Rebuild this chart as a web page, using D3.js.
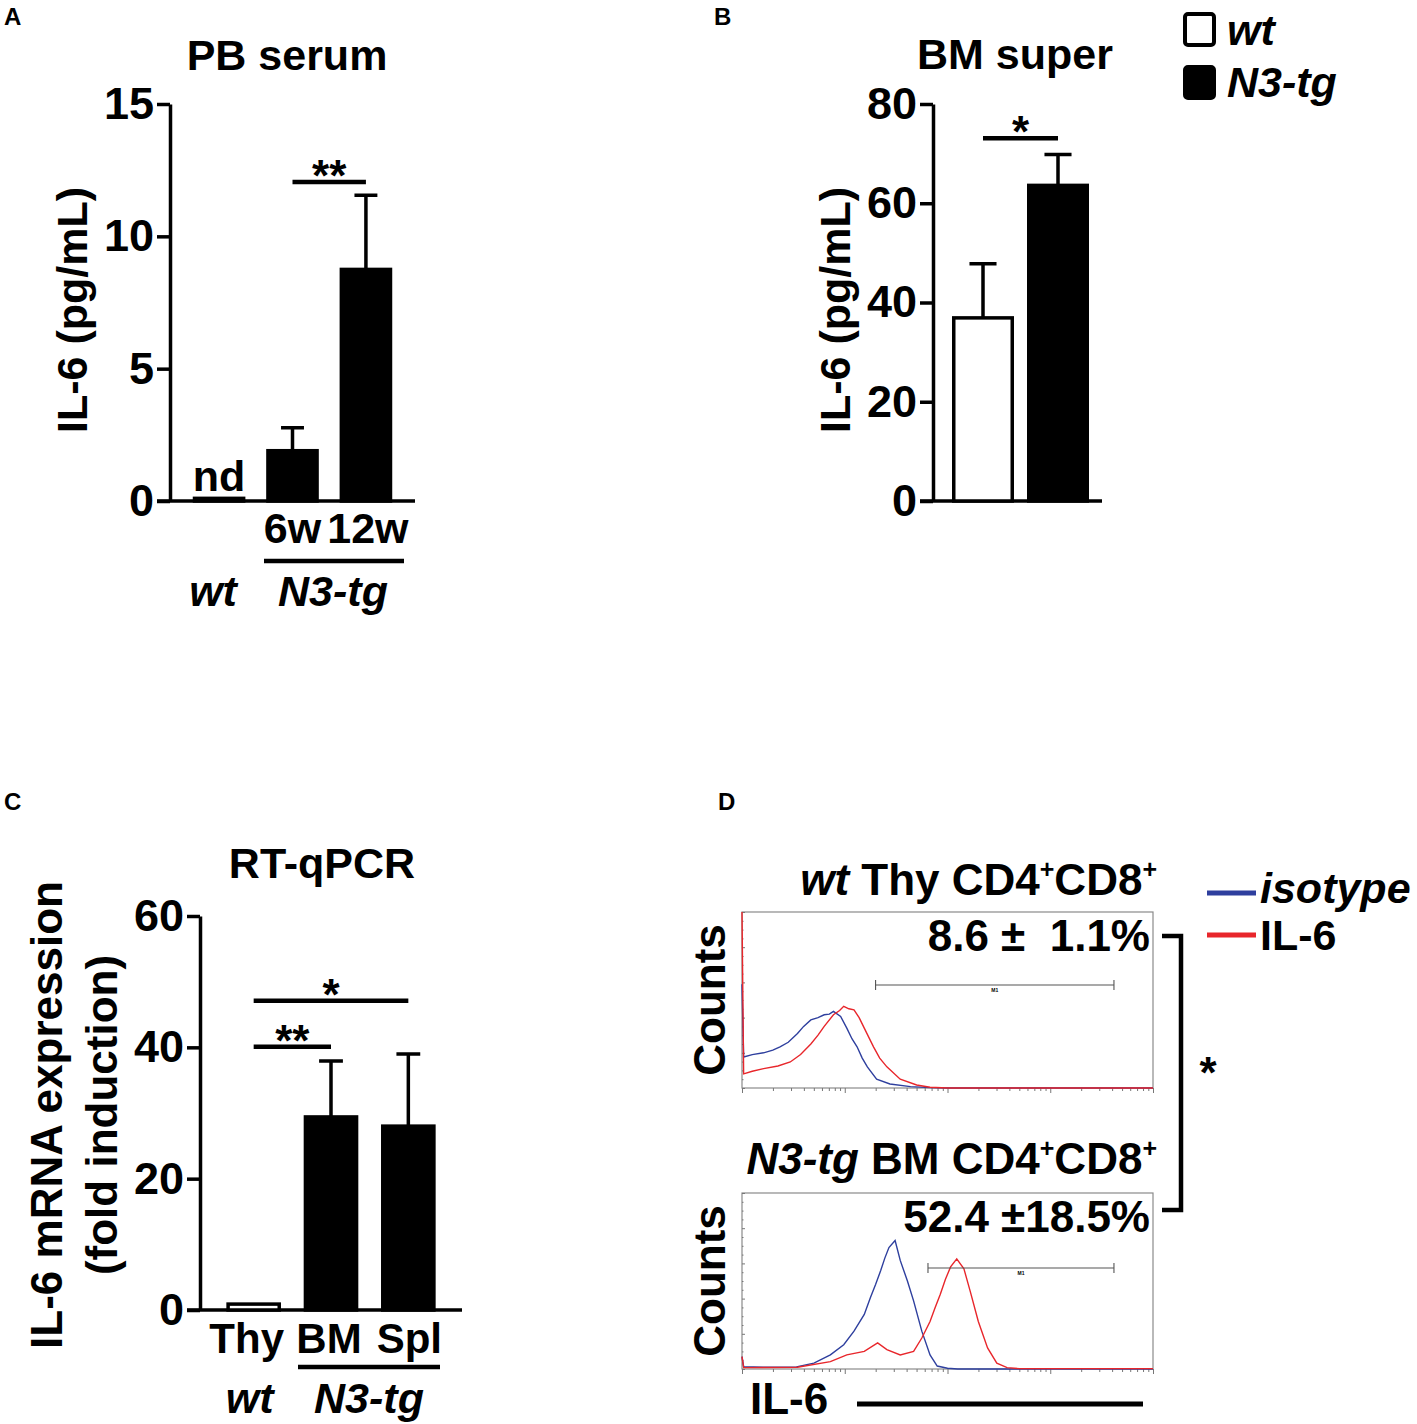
<!DOCTYPE html>
<html>
<head>
<meta charset="utf-8">
<script src="https://cdn.jsdelivr.net/npm/d3@7"></script>
<style>
body { margin: 0; background: #fff; }
text { font-family: "Liberation Sans", Arial, sans-serif; font-weight: bold; fill: #000; }
</style>
</head>
<body>
<div id="canvas"></div>
<script>
var width = 1417;
var height = 1424;

// A: PB serum IL-6 (pg/mL), mean and upper SEM
var groupsA = ["wt", "6w", "12w"];
var meansA = [0.1, 1.9, 8.75];
var semA = [0, 0.87, 2.8];
var ticksA = [0, 5, 10, 15];

// B: BM supernatant IL-6 (pg/mL)
var groupsB = ["wt", "N3-tg"];
var meansB = [36.9, 63.6];
var semB = [10.9, 6.2];
var ticksB = [0, 20, 40, 60, 80];

// C: RT-qPCR fold induction
var groupsC = ["Thy", "BM", "Spl"];
var meansC = [0.9, 29.4, 28.0];
var semC = [0, 8.5, 11.0];
var ticksC = [0, 20, 40, 60];

// D: flow histograms, [log10 intensity, % of max count]
var wtIso = [[0, 59], [0.016, 17.6], [0.1, 19], [0.21, 20], [0.3, 21.5], [0.37, 23.4], [0.45, 26],
  [0.54, 31], [0.6, 35], [0.67, 38.7], [0.74, 40], [0.8, 41.6], [0.85, 42], [0.89, 43.5],
  [0.96, 40.6], [1.02, 34], [1.07, 28], [1.12, 23.4], [1.17, 17], [1.22, 12], [1.31, 5],
  [1.44, 2.3], [1.64, 0.8], [1.83, 0.2], [2.0, 0], [4.0, 0]];
var wtIL6 = [[0, 100], [0.016, 8], [0.1, 9.5], [0.21, 11], [0.35, 12.5], [0.47, 14.8], [0.57, 19],
  [0.67, 25], [0.74, 30], [0.8, 35], [0.89, 41.6], [0.95, 44], [0.99, 46.4], [1.04, 45],
  [1.09, 44.4], [1.14, 40], [1.19, 34], [1.28, 23.4], [1.34, 17], [1.41, 12], [1.54, 5],
  [1.7, 1.7], [1.83, 0.4], [2.0, 0], [4.0, 0]];
var tgIso = [[0, 7], [0.016, 1.3], [0.21, 1], [0.53, 1.2], [0.7, 3.3], [0.86, 8], [0.99, 13.8],
  [1.09, 21.5], [1.19, 31], [1.25, 40.6], [1.3, 48], [1.35, 56], [1.39, 63], [1.43, 69],
  [1.49, 73], [1.54, 61.7], [1.61, 50], [1.67, 38.7], [1.75, 21.5], [1.83, 8], [1.9, 1.7],
  [2.0, 0.4], [2.1, 0], [4.0, 0]];
var tgIL6 = [[0, 7], [0.016, 0.8], [0.54, 1], [0.86, 4.2], [1.02, 8], [1.19, 10], [1.32, 14.8],
  [1.41, 11], [1.54, 8], [1.67, 10], [1.75, 17.6], [1.83, 27], [1.88, 35], [1.93, 42.5],
  [1.98, 51], [2.03, 58], [2.09, 62.6], [2.16, 56.9], [2.22, 44.4], [2.3, 27], [2.39, 12],
  [2.48, 3.3], [2.58, 0.8], [2.7, 0.2], [4.0, 0.2]];
var gateWt = [1.30, 3.62, 58.5];
var gateTg = [1.81, 3.62, 57.4];

var blue = "#2e3f9e", red = "#e8262b";

var svg = d3.select("#canvas").append("svg")
  .attr("width", width)
  .attr("height", height);

function label(g, x, y, txt, size, anchor, italic) {
  return g.append("text")
    .attr("x", x).attr("y", y)
    .attr("font-size", size)
    .attr("text-anchor", anchor || "middle")
    .attr("font-style", italic ? "italic" : "normal")
    .text(txt);
}

function barPanel(o) {
  var g = svg.append("g");
  var y = d3.scaleLinear().domain([0, o.max]).range([o.y0, o.y1]);
  var x = d3.scaleBand().domain(o.groups).range(o.xr)
    .paddingInner(o.pin).paddingOuter(0.15);
  var bw = x.bandwidth();

  var ax = g.append("g")
    .attr("transform", "translate(" + o.ax + ",0)")
    .call(d3.axisLeft(y).tickValues(o.ticks).tickSize(13).tickSizeOuter(0).tickPadding(3));
  ax.select(".domain").attr("stroke-width", 3.5);
  ax.selectAll(".tick line").attr("stroke-width", 3.5);
  ax.selectAll(".tick text")
    .attr("font-size", 45)
    .attr("font-family", "Liberation Sans, Arial, sans-serif")
    .attr("font-weight", "bold");

  g.append("line")
    .attr("x1", o.ax - 13).attr("x2", o.xend)
    .attr("y1", y(0)).attr("y2", y(0))
    .attr("stroke", "#000").attr("stroke-width", 3.5);

  var bars = o.groups.map(function(d, i) {
    return {g: d, m: o.means[i], e: o.sem[i], fill: o.fills[i]};
  });

  // error bars, upward only
  g.selectAll(".err").data(bars.filter(function(d) { return d.e > 0; }))
    .enter().append("path")
    .attr("d", function(d) {
      var cx = x(d.g) + bw / 2, cw = bw * 0.22;
      return "M" + cx + "," + y(d.m) + "V" + y(d.m + d.e) +
        "M" + (cx - cw) + "," + y(d.m + d.e) + "H" + (cx + cw);
    })
    .attr("fill", "none").attr("stroke", "#000").attr("stroke-width", 3.5);

  g.selectAll(".bar").data(bars)
    .enter().append("rect")
    .attr("x", function(d) { return x(d.g) + 1.5; })
    .attr("width", bw - 3)
    .attr("y", function(d) { return y(d.m); })
    .attr("height", function(d) { return y(0) - y(d.m); })
    .attr("fill", function(d) { return d.fill; })
    .attr("stroke", "#000").attr("stroke-width", 3.5);

  // significance lines
  (o.sig || []).forEach(function(s) {
    var xa = x(s[0]) + bw / 2, xb = x(s[1]) + bw / 2, yy = y(s[2]);
    g.append("line").attr("x1", xa).attr("x2", xb).attr("y1", yy).attr("y2", yy)
      .attr("stroke", "#000").attr("stroke-width", 4.5);
    label(g, (xa + xb) / 2, yy + 9, s[3], 44);
  });

  // y label
  g.append("text")
    .attr("transform", "translate(" + o.ylx + "," + o.yly + ") rotate(-90)")
    .attr("text-anchor", "middle").attr("font-size", o.ylsize || 43)
    .text(o.ylabel);

  label(g, o.tx, o.ty, o.title, 43);
  return {x: x, y: y, g: g, bw: bw};
}

// Panel letters
label(svg, 4, 25, "A", 24, "start");
label(svg, 714, 25, "B", 24, "start");
label(svg, 4, 810, "C", 24, "start");
label(svg, 718, 810, "D", 24, "start");

// ---- A
var pA = barPanel({
  groups: groupsA, means: meansA, sem: semA, ticks: ticksA, max: 15,
  y0: 501, y1: 104, ax: 170, xr: [182, 403], pin: 0.29, xend: 415,
  fills: ["#000", "#000", "#000"],
  sig: [["6w", "12w", 12.05, "**"]],
  ylabel: "IL-6 (pg/mL)", ylx: 87, yly: 310,
  title: "PB serum", tx: 287, ty: 70
});
label(pA.g, pA.x("wt") + pA.bw / 2, 491, "nd", 43);
label(pA.g, pA.x("6w") + pA.bw / 2, 543, "6w", 43);
label(pA.g, pA.x("12w") + pA.bw / 2 + 2, 543, "12w", 43);
pA.g.append("line").attr("x1", 264).attr("x2", 404).attr("y1", 561).attr("y2", 561)
  .attr("stroke", "#000").attr("stroke-width", 4.5);
label(pA.g, pA.x("wt") + pA.bw / 2 - 6, 606, "wt", 43, "middle", true);
label(pA.g, 333, 606, "N3-tg", 43, "middle", true);

// ---- B
var pB = barPanel({
  groups: groupsB, means: meansB, sem: semB, ticks: ticksB, max: 80,
  y0: 501, y1: 104, ax: 933, xr: [941, 1100], pin: 0.18, xend: 1102,
  fills: ["#fff", "#000"],
  sig: [["wt", "N3-tg", 73.1, "*"]],
  ylabel: "IL-6 (pg/mL)", ylx: 850, yly: 310,
  title: "BM super", tx: 1015, ty: 69
});
// legend B
var legB = svg.append("g");
legB.selectAll("rect").data(groupsB).enter().append("rect")
  .attr("x", 1185).attr("y", function(d, i) { return 14 + i * 53; })
  .attr("width", 29).attr("height", 31).attr("rx", 3)
  .attr("fill", function(d, i) { return i ? "#000" : "#fff"; })
  .attr("stroke", "#000").attr("stroke-width", 4);
legB.selectAll("text").data(groupsB).enter().append("text")
  .attr("x", 1227).attr("y", function(d, i) { return 45 + i * 52; })
  .attr("font-size", 43).attr("font-style", "italic")
  .text(function(d) { return d; });

// ---- C
var pC = barPanel({
  groups: groupsC, means: meansC, sem: semC, ticks: ticksC, max: 60,
  y0: 1310, y1: 916, ax: 200, xr: [215, 447], pin: 0.3, xend: 462,
  fills: ["#fff", "#000", "#000"],
  sig: [["Thy", "BM", 40.1, "**"], ["Thy", "Spl", 47.1, "*"]],
  ylabel: "IL-6 mRNA expression", ylx: 62, yly: 1115, ylsize: 44,
  title: "RT-qPCR", tx: 322, ty: 878
});
pC.g.append("text")
  .attr("transform", "translate(117,1115) rotate(-90)")
  .attr("text-anchor", "middle").attr("font-size", 44)
  .text("(fold induction)");
var nudgeC = [-7, -2, 1];
groupsC.forEach(function(d, i) {
  label(pC.g, pC.x(d) + pC.bw / 2 + nudgeC[i], 1353, d, 42);
});
pC.g.append("line").attr("x1", 298).attr("x2", 440).attr("y1", 1367).attr("y2", 1367)
  .attr("stroke", "#000").attr("stroke-width", 4.5);
label(pC.g, pC.x("Thy") + pC.bw / 2 - 4, 1413, "wt", 43, "middle", true);
label(pC.g, 369, 1413, "N3-tg", 43, "middle", true);

// ---- D histograms
var hx = d3.scaleLinear().domain([0, 4]).range([742, 1153]);
var hxLog = d3.scaleLog().domain([1, 10000]).range([742, 1153]);

function histo(top, bottom, iso, il6, gate) {
  var g = svg.append("g");
  var hy = d3.scaleLinear().domain([0, 100]).range([bottom, top]);
  g.append("rect").attr("x", 742).attr("y", top)
    .attr("width", 411).attr("height", bottom - top)
    .attr("fill", "none").attr("stroke", "#8a8a8a").attr("stroke-width", 1.2);

  var minor = [];
  for (var d = 0; d < 4; d++) for (var k = 1; k < 10; k++) minor.push(k * Math.pow(10, d));
  minor.push(10000);
  var bx = g.append("g").attr("transform", "translate(0," + bottom + ")")
    .call(d3.axisBottom(hxLog).tickValues(minor).tickSize(3).tickFormat("").tickSizeOuter(0));
  bx.select(".domain").remove();
  bx.selectAll(".tick line").attr("stroke", "#777")
    .attr("y2", function(v) { return Math.abs(Math.log10(v) % 1) < 1e-9 ? 5 : 3; });

  var ly = g.append("g").attr("transform", "translate(742,0)")
    .call(d3.axisLeft(hy).tickValues(d3.range(0, 101, 5)).tickSize(2).tickFormat("").tickSizeOuter(0));
  ly.select(".domain").remove();
  ly.selectAll(".tick line").attr("stroke", "#777")
    .attr("x2", function(v) { return v % 20 === 0 ? 3 : 1.5; });

  var line = d3.line().x(function(p) { return hx(p[0]); }).y(function(p) { return hy(p[1]); });
  g.append("path").datum(iso).attr("d", line)
    .attr("fill", "none").attr("stroke", blue).attr("stroke-width", 1.4);
  g.append("path").datum(il6).attr("d", line)
    .attr("fill", "none").attr("stroke", red).attr("stroke-width", 1.4);

  // M1 gate
  var gy = hy(gate[2]), g0 = hx(gate[0]), g1 = hx(gate[1]);
  g.append("path")
    .attr("d", "M" + g0 + "," + (gy - 5) + "V" + (gy + 5) + "M" + g0 + "," + gy + "H" + g1 +
      "M" + g1 + "," + (gy - 5) + "V" + (gy + 5))
    .attr("fill", "none").attr("stroke", "#555").attr("stroke-width", 1.1);
  g.append("text").attr("x", (g0 + g1) / 2).attr("y", gy + 7)
    .attr("font-size", 5).attr("font-weight", "normal").attr("text-anchor", "middle")
    .attr("fill", "#555").text("M1");

  g.append("text")
    .attr("transform", "translate(725," + ((top + bottom) / 2) + ") rotate(-90)")
    .attr("text-anchor", "middle").attr("font-size", 44)
    .text("Counts");
  return g;
}

function cdTitle(y, lead, rest) {
  var t = svg.append("text").attr("x", 1157).attr("y", y)
    .attr("text-anchor", "end").attr("font-size", 44);
  t.append("tspan").attr("font-style", "italic").text(lead);
  t.append("tspan").text(rest + "CD4");
  t.append("tspan").attr("font-size", 25).attr("dy", -17).text("+");
  t.append("tspan").attr("dy", 17).text("CD8");
  t.append("tspan").attr("font-size", 25).attr("dy", -17).text("+");
}

cdTitle(895, "wt", " Thy ");
svg.append("text").attr("x", 1150).attr("y", 951).attr("text-anchor", "end")
  .attr("font-size", 44).style("white-space", "pre").text("8.6 \u00b1  1.1%");
histo(912, 1088, wtIso, wtIL6, gateWt);

cdTitle(1174, "N3-tg", " BM ");
svg.append("text").attr("x", 1150).attr("y", 1232).attr("text-anchor", "end")
  .attr("font-size", 44).style("white-space", "pre").text("52.4 \u00b118.5%");
histo(1193, 1369, tgIso, tgIL6, gateTg);

// bracket with significance
svg.append("path")
  .attr("d", "M1162,936H1181V1210H1162")
  .attr("fill", "none").attr("stroke", "#000").attr("stroke-width", 4.5);
label(svg, 1208, 1088, "*", 44);

// x label
label(svg, 750, 1414, "IL-6", 44, "start");
svg.append("line").attr("x1", 857).attr("x2", 1143).attr("y1", 1404).attr("y2", 1404)
  .attr("stroke", "#000").attr("stroke-width", 5);

// legend D
var legD = svg.append("g");
[["isotype", blue, true, 903], ["IL-6", red, false, 950]].forEach(function(d, i) {
  var yy = 893 + i * 42;
  legD.append("line").attr("x1", 1207).attr("x2", 1256).attr("y1", yy).attr("y2", yy)
    .attr("stroke", d[1]).attr("stroke-width", 5);
  label(legD, 1260, d[3], d[0], 43, "start", d[2]);
});
</script>
</body>
</html>
